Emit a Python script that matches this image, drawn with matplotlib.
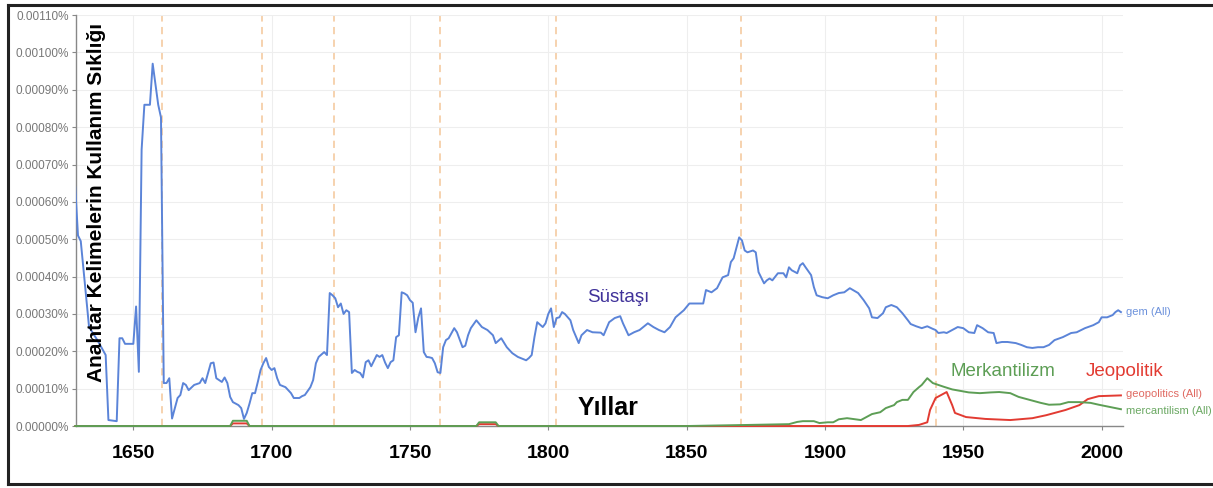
import matplotlib
matplotlib.use("Agg")
import matplotlib.pyplot as plt
from matplotlib.lines import Line2D
from matplotlib.ticker import FuncFormatter

plt.rcParams['font.family'] = ['Liberation Sans', 'DejaVu Sans']

# values in units of 0.0001 % (ngram frequency)
gem_years = [1629, 1630, 1631, 1634, 1637, 1640, 1641, 1644, 1645, 1646, 1647, 1650,
             1651, 1652, 1653, 1654, 1656, 1657, 1659, 1660, 1661, 1662, 1663, 1664,
             1666, 1667, 1668, 1669, 1670, 1672, 1674, 1675, 1676, 1678, 1679, 1680,
             1682, 1683, 1684, 1685, 1686, 1688, 1689, 1690, 1691, 1692, 1693, 1694,
             1695, 1696, 1697, 1698, 1699, 1700, 1701, 1702, 1703, 1705, 1707, 1708,
             1710, 1711, 1712, 1714, 1715, 1716, 1717, 1719, 1720, 1721, 1722, 1723,
             1724, 1725, 1726, 1727, 1728, 1729, 1730, 1731, 1732, 1733, 1734, 1735,
             1736, 1738, 1739, 1740, 1741, 1742, 1743, 1744, 1745, 1746, 1747, 1748,
             1749, 1750, 1751, 1752, 1753, 1754, 1755, 1756, 1757, 1758, 1759, 1760,
             1761, 1762, 1763, 1764, 1766, 1767, 1769, 1770, 1771, 1772, 1774, 1776,
             1778, 1780, 1781, 1783, 1785, 1787, 1789, 1790, 1792, 1793, 1794, 1795,
             1796, 1798, 1799, 1800, 1801, 1802, 1803, 1804, 1805, 1806, 1808, 1809,
             1811, 1812, 1814, 1816, 1819, 1820, 1822, 1824, 1826, 1827, 1829, 1831,
             1833, 1836, 1838, 1840, 1842, 1844, 1846, 1849, 1851, 1854, 1856, 1857,
             1859, 1861, 1863, 1865, 1866, 1867, 1869, 1870, 1871, 1872, 1874, 1875,
             1876, 1878, 1879, 1880, 1881, 1883, 1885, 1886, 1887, 1888, 1890, 1891,
             1892, 1893, 1895, 1896, 1897, 1899, 1901, 1903, 1905, 1907, 1909, 1912,
             1914, 1916, 1917, 1919, 1921, 1922, 1924, 1926, 1928, 1930, 1931, 1933,
             1935, 1937, 1939, 1940, 1941, 1943, 1944, 1946, 1948, 1950, 1952, 1954,
             1955, 1957, 1959, 1961, 1962, 1964, 1966, 1969, 1971, 1973, 1975, 1977,
             1979, 1981, 1983, 1986, 1989, 1991, 1994, 1997, 1999, 2000, 2002, 2004,
             2005, 2006, 2007]
gem_vals = [6.4, 5.1, 4.95, 2.65, 2.3, 1.9, 0.16, 0.13, 2.35, 2.35, 2.2, 2.2,
            3.2, 1.45, 7.4, 8.6, 8.6, 9.7, 8.6, 8.26, 1.15, 1.15, 1.28, 0.2,
            0.75, 0.83, 1.15, 1.1, 0.96, 1.1, 1.15, 1.28, 1.15, 1.68, 1.7, 1.28,
            1.18, 1.3, 1.15, 0.78, 0.64, 0.56, 0.48, 0.19, 0.35, 0.6, 0.88, 0.88,
            1.18, 1.5, 1.68, 1.82, 1.58, 1.5, 1.55, 1.28, 1.1, 1.04, 0.88, 0.75,
            0.75, 0.8, 0.83, 1.04, 1.23, 1.68, 1.85, 1.98, 1.9, 3.56, 3.5, 3.42,
            3.18, 3.28, 3.0, 3.1, 3.05, 1.42, 1.5, 1.45, 1.42, 1.3, 1.71, 1.76,
            1.6, 1.9, 1.85, 1.9, 1.7, 1.55, 1.71, 1.76, 2.38, 2.43, 3.58, 3.55,
            3.5, 3.37, 3.3, 2.51, 2.9, 3.15, 1.98, 1.85, 1.84, 1.82, 1.68, 1.44,
            1.42, 2.11, 2.3, 2.35, 2.62, 2.51, 2.11, 2.15, 2.43, 2.62, 2.83, 2.65,
            2.57, 2.43, 2.22, 2.35, 2.11, 1.95, 1.85, 1.82, 1.76, 1.82, 1.9, 2.38,
            2.78, 2.65, 2.75, 3.0, 3.15, 2.65, 2.89, 2.91, 3.05, 3.0, 2.83, 2.57,
            2.22, 2.43, 2.57, 2.51, 2.5, 2.43, 2.78, 2.89, 2.94, 2.75, 2.43, 2.51,
            2.57, 2.75, 2.65, 2.57, 2.51, 2.65, 2.91, 3.1, 3.28, 3.28, 3.28, 3.64,
            3.58, 3.69, 3.98, 4.04, 4.39, 4.49, 5.05, 4.97, 4.7, 4.65, 4.7, 4.65,
            4.12, 3.82, 3.9, 3.95, 3.9, 4.09, 4.09, 3.98, 4.25, 4.17, 4.09, 4.3,
            4.36, 4.25, 4.04, 3.72, 3.5, 3.45, 3.42, 3.5, 3.56, 3.58, 3.69, 3.56,
            3.37, 3.15, 2.91, 2.89, 3.02, 3.18, 3.24, 3.18, 3.02, 2.83, 2.73, 2.67,
            2.62, 2.67, 2.6, 2.57, 2.49, 2.51, 2.49, 2.57, 2.65, 2.62, 2.51, 2.49,
            2.7, 2.62, 2.51, 2.49, 2.22, 2.25, 2.25, 2.22, 2.17, 2.11, 2.09, 2.11,
            2.11, 2.17, 2.3, 2.38, 2.49, 2.51, 2.62, 2.7, 2.78, 2.91, 2.91, 2.97,
            3.05, 3.1, 3.05]

geo_years = [1629, 1685, 1686, 1691, 1692, 1774, 1775, 1781, 1782, 1930, 1934, 1937,
             1938, 1940, 1942, 1944, 1946, 1947, 1951, 1958, 1967, 1975, 1980, 1987,
             1992, 1995, 1999, 2007]
geo_vals = [0, 0, 0.07, 0.07, 0, 0, 0.05, 0.05, 0, 0, 0.03, 0.1,
            0.43, 0.75, 0.83, 0.91, 0.56, 0.35, 0.24, 0.19, 0.16, 0.21, 0.29, 0.43,
            0.56, 0.72, 0.8, 0.82]

merc_years = [1629, 1685, 1686, 1691, 1692, 1774, 1775, 1781, 1782, 1850, 1873, 1887,
              1890, 1892, 1896, 1898, 1901, 1903, 1905, 1908, 1910, 1913, 1915, 1917,
              1920, 1922, 1925, 1926, 1928, 1930, 1932, 1934, 1935, 1937, 1939, 1943,
              1946, 1949, 1952, 1956, 1960, 1963, 1967, 1970, 1974, 1978, 1981, 1985,
              1988, 1992, 1996, 1999, 2003, 2007]
merc_vals = [0, 0, 0.14, 0.14, 0, 0, 0.1, 0.1, 0, 0, 0.03, 0.05,
             0.11, 0.13, 0.13, 0.08, 0.1, 0.1, 0.18, 0.21, 0.19, 0.16, 0.24, 0.32,
             0.37, 0.48, 0.56, 0.64, 0.7, 0.7, 0.91, 1.04, 1.1, 1.28, 1.15, 1.05,
             0.98, 0.94, 0.9, 0.88, 0.9, 0.91, 0.88, 0.78, 0.7, 0.62, 0.57, 0.58,
             0.64, 0.64, 0.62, 0.57, 0.51, 0.45]

event_years = [1660.2, 1696.4, 1722.7, 1760.8, 1802.8, 1869.8, 1940.2]
x_ticks = [1650, 1700, 1750, 1800, 1850, 1900, 1950, 2000]
y_ticks = list(range(0, 12))

fig = plt.figure(figsize=(12.13, 4.88), dpi=100)
ax = fig.add_axes([0.0627, 0.127, 0.863, 0.842])

for yr in event_years:
    ax.axvline(yr, color='#f6cfa8', ls=(0, (4, 3)), lw=1.3, zorder=1)

ax.plot(gem_years, gem_vals, color='#5b84d8', lw=1.4, zorder=3)
ax.plot(geo_years, geo_vals, color='#e23b32', lw=1.4, zorder=3, clip_on=False)
ax.plot(merc_years, merc_vals, color='#5d9e55', lw=1.4, zorder=4, clip_on=False)

ax.set_xlim(1629.3, 2007.7)
ax.set_ylim(0, 11)
ax.set_xticks(x_ticks)
ax.set_yticks(y_ticks)
ax.yaxis.set_major_formatter(FuncFormatter(lambda v, p: f"{v * 1e-4:.5f}%"))
ax.grid(True, color='#eeeeee', lw=0.8, zorder=0)

for s in ['top', 'right']:
    ax.spines[s].set_visible(False)
for s in ['left', 'bottom']:
    ax.spines[s].set_color('#888888')
    ax.spines[s].set_linewidth(1.0)

ax.tick_params(axis='y', colors='#888888', labelcolor='#777777', labelsize=8.5,
               length=3, pad=2)
ax.tick_params(axis='x', colors='#888888', labelcolor='black', length=3, pad=11)
for lab in ax.get_xticklabels():
    lab.set_fontsize(14)
    lab.set_fontweight('bold')

# annotations
fig.text(97 / 1213, 1 - 202 / 488, "Anahtar Kelimelerin Kullanım Sıklığı",
         rotation=90, ha='center', va='center', fontsize=15, fontweight='bold')
fig.text(608 / 1213, 1 - 408 / 488, "Yıllar", ha='center', va='center',
         fontsize=18, fontweight='bold')
fig.text(618 / 1213, 1 - 298 / 488, "Süstaşı", ha='center', va='center',
         fontsize=13.5, color='#40329a')
fig.text(1003 / 1213, 1 - 371 / 488, "Merkantilizm", ha='center', va='center',
         fontsize=13.5, color='#5d9e55')
fig.text(1125 / 1213, 1 - 371 / 488, "Jeopolitik", ha='center', va='center',
         fontsize=13.5, color='#e23b32')

ax.text(2008.8, gem_vals[-1], "gem (All)", fontsize=8, color='#6d92dc',
        va='center', ha='left', clip_on=False)
ax.text(2008.8, geo_vals[-1] + 0.05, "geopolitics (All)", fontsize=8, color='#e06a62',
        va='center', ha='left', clip_on=False)
ax.text(2008.8, merc_vals[-1] - 0.05, "mercantilism (All)", fontsize=8, color='#6aa862',
        va='center', ha='left', clip_on=False)

# outer frame (top, left, bottom)
for xs, ys in [([8 / 1213, 1.0], [1 - 5 / 488] * 2),
               ([8 / 1213] * 2, [1 - 5 / 488, 1 - 484 / 488]),
               ([8 / 1213, 1.0], [1 - 484 / 488] * 2)]:
    fig.add_artist(Line2D(xs, ys, color='#222222', lw=2.2))

fig.savefig("out.png", dpi=100, facecolor='white')
